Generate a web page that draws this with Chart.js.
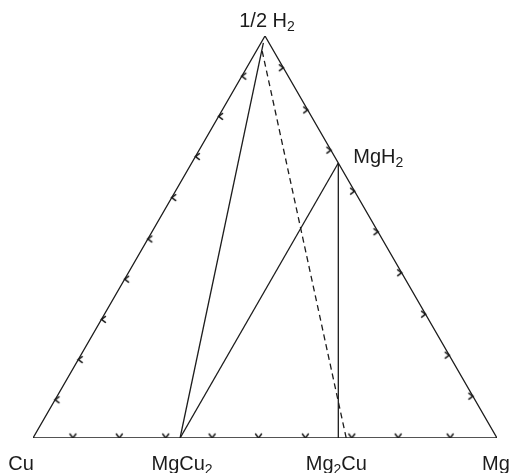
<!DOCTYPE html>
<html>
<head>
<meta charset="utf-8">
<script src="https://cdn.jsdelivr.net/npm/chart.js@4/dist/chart.umd.min.js"></script>
<style>
  html, body { margin: 0; padding: 0; background: #fff; }
  canvas { display: block; }
</style>
</head>
<body>
<canvas id="chart" width="514" height="473"></canvas>
<script>
// Ternary points as [xMg, xH] (xCu = 1 - xMg - xH)
const vertexNames = ["Cu", "Mg", "1/2 H_2"];
const vertices = [[0, 0], [1, 0], [0, 1]];
const phaseNames = ["MgCu_2", "Mg_2Cu", "MgH_2"];
const phases = [[0.317, 0], [0.658, 0], [0.316, 0.684]];

// tie lines: [from, to]
const solidTies = [
  [[0.317, 0], [0.005, 0.983]],
  [[0.317, 0], [0.316, 0.684]],
  [[0.658, 0], [0.316, 0.684]],
];
const dashedTie = [[0.675, 0], [0.011, 0.965]];

// arrow ticks along each edge
const baseTicksMg = [0.086, 0.186, 0.286, 0.386, 0.486, 0.587, 0.687, 0.787, 0.899];
const leftTicksH = [0.095, 0.195, 0.295, 0.395, 0.495, 0.598, 0.7, 0.8, 0.9];
const rightTicksH = [0.104, 0.206, 0.308, 0.411, 0.513, 0.614, 0.716, 0.816, 0.921];

const ink = "#1c1c1c";

function toXY([mg, h]) {
  return { x: mg + h / 2, y: h };
}

function chevron() {
  const c = document.createElement("canvas");
  c.width = 13;
  c.height = 13;
  const g = c.getContext("2d");
  g.strokeStyle = "#111";
  g.lineWidth = 1.4;
  g.lineCap = "round";
  g.beginPath();
  g.moveTo(3.5, 2.5);
  g.lineTo(6.5, 6.5);
  g.lineTo(9.5, 2.5);
  g.stroke();
  return c;
}
const arrow = chevron();

function lineSet(points, dash) {
  return {
    data: points.map(toXY),
    showLine: true,
    borderColor: ink,
    borderWidth: 1.3,
    borderDash: dash || [],
    pointRadius: 0,
    pointHoverRadius: 0,
    fill: false,
  };
}

function tickSet(points, rotation) {
  return {
    data: points.map(toXY),
    showLine: false,
    pointStyle: arrow,
    pointRadius: 4,
    rotation,
  };
}

const outline = [vertices[0], vertices[1], vertices[2], vertices[0]];

// label placement: anchor point, alignment, pixel offsets
const labelLayout = [
  { name: vertexNames[0], at: vertices[0], align: "center", dx: -12, dy: 32 },
  { name: vertexNames[1], at: vertices[1], align: "center", dx: -1, dy: 32 },
  { name: vertexNames[2], at: vertices[2], align: "center", dx: 2, dy: -9 },
  { name: phaseNames[0], at: phases[0], align: "center", dx: 2, dy: 32 },
  { name: phaseNames[1], at: phases[1], align: "center", dx: -2, dy: 32 },
  { name: phaseNames[2], at: phases[2], align: "left", dx: 15, dy: 0 },
];

const mainFont = "20px 'Liberation Sans', Arial, sans-serif";
const subFont = "14px 'Liberation Sans', Arial, sans-serif";

function parts(text) {
  return text.split(/(_\d)/).filter(Boolean).map((p) => p.startsWith("_") ? { t: p.slice(1), sub: true } : { t: p, sub: false });
}

const labelPlugin = {
  id: "ternaryLabels",
  afterDatasetsDraw(chart) {
    const { ctx, scales } = chart;
    ctx.save();
    ctx.fillStyle = ink;
    ctx.textBaseline = "alphabetic";
    ctx.textAlign = "left";
    labelLayout.forEach((l) => {
      const p = toXY(l.at);
      const px = scales.x.getPixelForValue(p.x) + l.dx;
      const py = scales.y.getPixelForValue(p.y) + l.dy;
      const segs = parts(l.name);
      let width = 0;
      segs.forEach((s) => {
        ctx.font = s.sub ? subFont : mainFont;
        s.w = ctx.measureText(s.t).width;
        width += s.w;
      });
      let x = l.align === "center" ? px - width / 2 : px;
      segs.forEach((s) => {
        ctx.font = s.sub ? subFont : mainFont;
        ctx.fillText(s.t, x, s.sub ? py + 4 : py);
        x += s.w;
      });
    });
    ctx.restore();
  },
};

new Chart(document.getElementById("chart"), {
  type: "scatter",
  data: {
    datasets: [
      lineSet(outline),
      ...solidTies.map((t) => lineSet(t)),
      lineSet(dashedTie, [6, 4]),
      tickSet(baseTicksMg.map((m) => [m, 0]), 0),
      tickSet(leftTicksH.map((h) => [0, h]), 90),
      tickSet(rightTicksH.map((h) => [1 - h, h]), -90),
    ],
  },
  options: {
    responsive: false,
    animation: false,
    devicePixelRatio: 1,
    layout: { padding: { left: 33, right: 17, top: 36, bottom: 35 } },
    plugins: { legend: { display: false }, tooltip: { enabled: false } },
    scales: {
      x: { type: "linear", min: 0, max: 1, display: false },
      y: { type: "linear", min: 0, max: 1, display: false },
    },
    elements: { line: { tension: 0 } },
  },
  plugins: [labelPlugin],
});
</script>
</body>
</html>
